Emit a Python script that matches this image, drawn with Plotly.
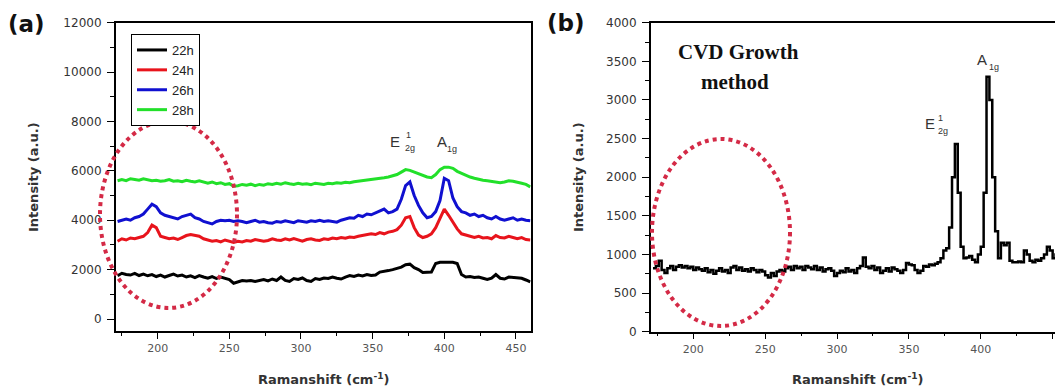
import plotly.graph_objects as go

W, H = 1063, 392
OFF = 8                    # page body margin in the browser
FW, FH = W - OFF, H - OFF  # figure size so that it fits the window

# ---------------- data: panel (a) ----------------
shift_a = list(range(172, 461, 3))  # Raman shift grid (cm^-1)

int_22h = [1750, 1850, 1800, 1780, 1850, 1760, 1820, 1750, 1800, 1720,
           1780, 1700, 1760, 1820, 1740, 1780, 1700, 1750, 1680, 1760,
           1700, 1650, 1720, 1640, 1700, 1650, 1600, 1450, 1520, 1560,
           1540, 1560, 1520, 1560, 1600, 1540, 1620, 1560, 1700, 1560,
           1520, 1640, 1600, 1660, 1560, 1520, 1640, 1600, 1660, 1640,
           1700, 1650, 1620, 1700, 1760, 1720, 1780, 1740, 1800, 1760,
           1780, 1900, 1920, 1960, 2000, 2050, 2100, 2200, 2220, 2080,
           2000, 1880, 1880, 1900, 2250, 2300, 2300, 2300, 2300, 2250,
           1800, 1700, 1720, 1680, 1700, 1650, 1600, 1650, 1800, 1650,
           1620, 1700, 1680, 1650, 1650, 1580, 1500]

int_24h = [3150, 3250, 3200, 3280, 3250, 3300, 3350, 3500, 3800, 3700,
           3350, 3300, 3250, 3280, 3220, 3300, 3380, 3420, 3400, 3350,
           3250, 3200, 3150, 3180, 3120, 3200, 3150, 3100, 3150, 3120,
           3180, 3150, 3220, 3200, 3150, 3180, 3250, 3200, 3180, 3250,
           3200, 3260, 3220, 3150, 3220, 3250, 3200, 3180, 3250, 3220,
           3280, 3250, 3300, 3270, 3320, 3300, 3350, 3380, 3400, 3450,
           3420, 3500, 3450, 3520, 3550, 3620, 3800, 4100, 4150, 3700,
           3400, 3300, 3350, 3450, 3700, 4100, 4450, 4200, 3900, 3650,
           3450, 3400, 3350, 3300, 3350, 3280, 3300, 3250, 3380, 3300,
           3280, 3350, 3300, 3250, 3300, 3220, 3200]

int_26h = [3950, 4000, 4050, 4000, 4100, 4150, 4250, 4450, 4650, 4550,
           4300, 4200, 4150, 4100, 4050, 4150, 4200, 4250, 4100, 4050,
           3950, 3900, 3850, 3950, 4000, 3980, 4000, 3950, 3980, 3950,
           3900, 3950, 4000, 3920, 3950, 3900, 3880, 3950, 3920, 3980,
           3950, 3900, 3980, 3950, 3920, 3980, 3950, 4000, 3950, 3980,
           3950, 3920, 4000, 4050, 4100, 4080, 4200, 4150, 4250, 4220,
           4300, 4400, 4450, 4300, 4350, 4450, 4850, 5400, 5550, 5000,
           4600, 4300, 4100, 4150, 4350, 4800, 5700, 5600, 4900, 4550,
           4350, 4300, 4200, 4250, 4150, 4200, 4100, 4050, 4150, 4050,
           4000, 4050, 4100, 4000, 4050, 4000, 3980]

int_28h = [5600, 5650, 5600, 5680, 5650, 5620, 5680, 5650, 5600, 5620,
           5580, 5600, 5650, 5580, 5600, 5560, 5620, 5580, 5550, 5600,
           5550, 5500, 5550, 5480, 5520, 5450, 5480, 5380, 5400, 5450,
           5420, 5460, 5400, 5450, 5420, 5480, 5450, 5500, 5460, 5520,
           5480, 5450, 5500, 5460, 5480, 5440, 5500, 5470, 5450, 5500,
           5480, 5520, 5500, 5540, 5520, 5560, 5580, 5600, 5620, 5640,
           5660, 5700, 5720, 5750, 5800, 5850, 5950, 6050, 6020, 5950,
           5900, 5800, 5750, 5720, 5850, 6050, 6150, 6150, 6100, 5980,
           5900, 5800, 5750, 5700, 5650, 5620, 5600, 5580, 5550, 5520,
           5550, 5600, 5580, 5550, 5500, 5450, 5350]

series_names = ["22h", "24h", "26h", "28h"]
series_vals = [int_22h, int_24h, int_26h, int_28h]
series_colors = ["#000000", "#e8141c", "#1010d0", "#22e02a"]

# ---------------- data: panel (b) ----------------
shift_b = list(range(172, 459, 2))
int_cvd = [820, 850, 920, 800, 760, 820, 850, 800, 840, 860,
           830, 850, 820, 840, 800, 830, 810, 790, 820, 770,
           800, 750, 790, 820, 780, 800, 760, 830, 850, 800,
           830, 790, 810, 780, 820, 800, 770, 800, 780, 730,
           700, 760, 720, 780, 800, 780, 820, 840, 800, 850,
           820, 840, 800, 850, 830, 810, 850, 800, 830, 780,
           810, 820, 790, 720, 760, 790, 770, 820, 780, 800,
           760, 820, 850, 960, 840, 820, 850, 800, 830, 760,
           790, 820, 780, 830, 810, 790, 760, 800, 890, 870,
           860, 800, 760, 790, 850, 840, 870, 860, 880, 900,
           950, 1050, 1080, 1350, 2000, 2430, 1800, 1100, 950, 960,
           980, 930, 900, 1000, 1100, 1800, 3300, 3000, 2000, 1300,
           950, 1150, 1120, 1150, 920, 900, 900, 910, 900, 1050,
           1000, 920, 900, 930, 920, 950, 1000, 1100, 1050, 950,
           1000, 1050, 950, 920]

a_yticks = [0, 2000, 4000, 6000, 8000, 10000, 12000]
b_yticks = [0, 500, 1000, 1500, 2000, 2500, 3000, 3500, 4000]
x_ticks = [200, 250, 300, 350, 400, 450]

# ---------------- layout helpers (page pixels -> paper) ----------------
def px(x):
    return (x - OFF) / FW

def py(y):
    return 1 - (y - OFF) / FH

fig = go.Figure()
for name, vals, col in zip(series_names, series_vals, series_colors):
    fig.add_trace(go.Scatter(x=shift_a, y=vals, mode="lines", name=name,
                             line=dict(color=col, width=3),
                             xaxis="x", yaxis="y"))

fig.add_trace(go.Scatter(x=shift_b, y=int_cvd, mode="lines", showlegend=False,
                         line=dict(color="#000000", width=2.5, shape="hv"),
                         xaxis="x2", yaxis="y2"))

tickfont_y = dict(family="DejaVu Sans", size=12, color="#333333")
tickfont_x = dict(family="DejaVu Sans", size=11, color="#555555")

common_x = dict(showline=True, linecolor="black", linewidth=1.5, mirror=True,
                ticks="outside", ticklen=6, tickwidth=1.2, tickcolor="black",
                tickvals=x_ticks, tickfont=tickfont_x, showgrid=False,
                zeroline=False, automargin=False,
                minor=dict(ticks="outside", ticklen=3, tickwidth=1,
                           dtick=25, tick0=175, tickcolor="black"))

fig.update_layout(
    template="none",
    width=FW, height=FH, autosize=False,
    margin=dict(l=0, r=0, t=0, b=0, pad=0),
    paper_bgcolor="white", plot_bgcolor="white",
    xaxis=dict(domain=[px(115.7), px(530.7)], range=[170.7, 460.3],
               anchor="y", **common_x),
    yaxis=dict(domain=[py(331), py(22.7)], range=[-486, 12000], anchor="x",
               showline=True, linecolor="black", linewidth=1.5, mirror=True,
               ticks="outside", ticklen=7, tickwidth=1.2, tickcolor="black",
               tickvals=a_yticks, tickformat="d", tickfont=tickfont_y,
               showgrid=False, zeroline=False, ticklabelstandoff=3,
               automargin=False,
               minor=dict(ticks="outside", ticklen=4, tickwidth=1,
                          dtick=1000, tickcolor="black")),
    xaxis2=dict(domain=[px(650.7), 1.0], range=[170.4, 457.2],
                anchor="y2", **common_x),
    yaxis2=dict(domain=[py(331.7), py(22.7)], range=[0, 4000], anchor="x2",
                showline=True, linecolor="black", linewidth=1.5, mirror=False,
                ticks="outside", ticklen=7, tickwidth=1.2, tickcolor="black",
                tickvals=b_yticks, tickformat="d", tickfont=tickfont_y,
                showgrid=False, zeroline=False, ticklabelstandoff=3,
                automargin=False,
                minor=dict(ticks="outside", ticklen=4, tickwidth=1,
                           dtick=250, tickcolor="black")),
    legend=dict(x=px(131), y=py(34), xanchor="left", yanchor="top",
                bordercolor="black", borderwidth=1, bgcolor="white",
                font=dict(family="Liberation Sans", size=13, color="#222222"),
                tracegroupgap=0),
    showlegend=True,
)

# ---------------- text annotations ----------------
ann = []
def add_text(x, y, text, size, family="Liberation Sans", bold=False,
             color="#333333", angle=0):
    t = f"<b>{text}</b>" if bold else text
    ann.append(dict(x=px(x), y=py(y), xref="paper", yref="paper", text=t,
                    showarrow=False, xanchor="center", yanchor="middle",
                    textangle=angle,
                    font=dict(family=family, size=size, color=color)))

add_text(26, 24, "(a)", 23, family="DejaVu Sans", bold=True, color="#111111")
add_text(566, 23, "(b)", 23, family="DejaVu Sans", bold=True, color="#111111")

add_text(33, 177, "Intensity (a.u.)", 13, family="DejaVu Sans", bold=True, angle=-90)
add_text(578, 177, "Intensity (a.u.)", 13, family="DejaVu Sans", bold=True, angle=-90)
add_text(323, 379, "Ramanshift (cm<sup>-1</sup>)", 13, family="DejaVu Sans", bold=True)
add_text(857, 379, "Ramanshift (cm<sup>-1</sup>)", 13, family="DejaVu Sans", bold=True)

# peak labels panel a
add_text(395, 141, "E", 15)
add_text(408, 135, "1", 9)
add_text(410, 148, "2g", 9)
add_text(442, 141, "A", 15)
add_text(452, 149, "1g", 9)
# peak labels panel b
add_text(930, 124, "E", 15)
add_text(940, 118, "1", 9)
add_text(943, 131, "2g", 9)
add_text(982, 60, "A", 15)
add_text(994, 67, "1g", 9)

add_text(738, 52, "CVD Growth", 21, family="Liberation Serif", bold=True, color="#111111")
add_text(735, 82, "method", 21, family="Liberation Serif", bold=True, color="#111111")

fig.update_layout(annotations=ann)

# ---------------- dotted ellipses ----------------
ell_col = "#d42a46"
fig.add_shape(type="circle", xref="paper", yref="paper",
              x0=px(100), x1=px(237), y0=py(308), y1=py(121),
              line=dict(color=ell_col, width=4, dash="dot"))
fig.add_shape(type="circle", xref="paper", yref="paper",
              x0=px(652), x1=px(790), y0=py(326), y1=py(139),
              line=dict(color=ell_col, width=4, dash="dot"))

fig.write_html("out.html")
